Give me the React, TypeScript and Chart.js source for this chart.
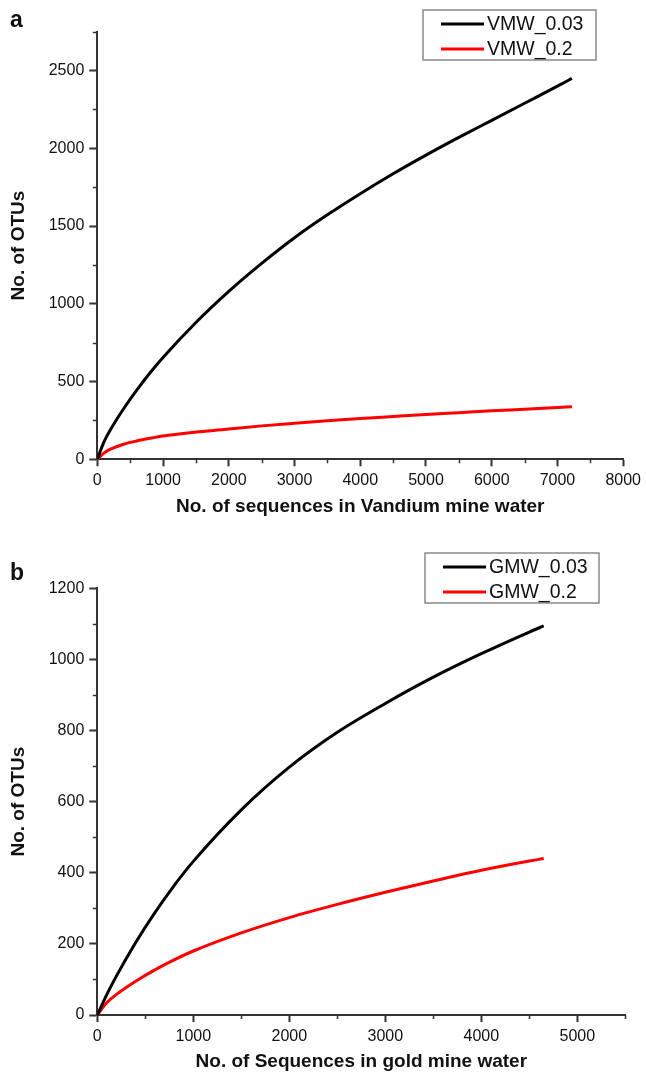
import React, { useEffect, useRef } from 'react';
import { Chart, registerables } from 'chart.js';

Chart.register(...registerables);

// ---------- Panel a: Vandium mine water ----------
const vmwSeqs = [0, 100, 200, 400, 600, 800, 1000, 1500, 2000, 2500, 3000, 3500, 4000, 4500, 5000, 5500, 6000, 6500, 7000, 7220];
const vmw003 = [0, 110, 190, 325, 445, 555, 655, 880, 1080, 1260, 1425, 1572, 1708, 1836, 1956, 2070, 2180, 2290, 2400, 2450];
const vmw02 = [0, 40, 65, 97, 118, 135, 150, 175, 195, 215, 232, 248, 262, 275, 288, 300, 312, 322, 333, 338];

// ---------- Panel b: gold mine water ----------
const gmwSeqs = [0, 100, 200, 400, 600, 800, 1000, 1500, 2000, 2500, 3000, 3500, 4000, 4500, 4650];
const gmw003 = [0, 58, 110, 204, 288, 364, 432, 577, 697, 795, 876, 950, 1016, 1077, 1094];
const gmw02 = [0, 35, 58, 95, 127, 155, 180, 231, 274, 311, 345, 377, 407, 433, 440];

const FONT = '"Liberation Sans", Arial, Helvetica, sans-serif';
const AXIS_COLOR = '#333333';
const TEXT_COLOR = '#111111';

const minorTicksPlugin = {
  id: 'minorTicks',
  afterDraw(chart: any, _args: any, opts: any) {
    const ctx = chart.ctx;
    const xs = chart.scales.x;
    const ys = chart.scales.y;
    ctx.save();
    ctx.strokeStyle = AXIS_COLOR;
    ctx.lineWidth = 1.5;
    ctx.beginPath();
    xs.ticks.forEach((t: any) => {
      if (t.value % opts.xMajor !== 0) {
        const px = Math.round(xs.getPixelForValue(t.value)) + 0.5;
        ctx.moveTo(px, xs.top);
        ctx.lineTo(px, xs.top + 4);
      }
    });
    ys.ticks.forEach((t: any) => {
      if (t.value % opts.yMajor !== 0) {
        const py = Math.round(ys.getPixelForValue(t.value)) + 0.5;
        ctx.moveTo(ys.right, py);
        ctx.lineTo(ys.right - 4.5, py);
      }
    });
    ctx.stroke();
    ctx.restore();
  },
};

const boxLegendPlugin = {
  id: 'boxLegend',
  afterDraw(chart: any, _args: any, opts: any) {
    const ctx = chart.ctx;
    const { x, y, w, h } = opts;
    ctx.save();
    ctx.strokeStyle = '#8a8a8a';
    ctx.lineWidth = 1.5;
    ctx.strokeRect(x, y, w, h);
    chart.data.datasets.forEach((ds: any, i: number) => {
      const rowY = y + 14 + i * 25;
      ctx.strokeStyle = ds.borderColor;
      ctx.lineWidth = 3;
      ctx.beginPath();
      ctx.moveTo(x + 18, rowY);
      ctx.lineTo(x + 61, rowY);
      ctx.stroke();
      ctx.fillStyle = TEXT_COLOR;
      ctx.font = `19.5px ${FONT}`;
      ctx.textBaseline = 'middle';
      ctx.textAlign = 'left';
      ctx.fillText(ds.label, x + 64, rowY + 1);
    });
    ctx.restore();
  },
};

type PanelCfg = {
  xMax: number;
  yMax: number;
  xMinorStep: number;
  yMinorStep: number;
  xMajor: number;
  yMajor: number;
  padTop: number;
  padRight: number;
  xHeight: number;
  yWidth: number;
  xTitle: string;
  xTitlePadBottom: number;
  legend: { x: number; y: number; w: number; h: number };
};

function buildConfig(seqs: number[], s1: number[], s2: number[], labels: string[], cfg: PanelCfg): any {
  const tickColorFor = (major: number) => (c: any) =>
    c.tick && c.tick.value % major === 0 ? AXIS_COLOR : 'rgba(0,0,0,0)';
  return {
    type: 'line',
    data: {
      datasets: [
        {
          label: labels[0],
          data: seqs.map((x, i) => ({ x, y: s1[i] })),
          borderColor: '#000000',
          borderWidth: 3,
          pointRadius: 0,
          fill: false,
          cubicInterpolationMode: 'monotone',
        },
        {
          label: labels[1],
          data: seqs.map((x, i) => ({ x, y: s2[i] })),
          borderColor: '#ff0000',
          borderWidth: 3,
          pointRadius: 0,
          fill: false,
          cubicInterpolationMode: 'monotone',
        },
      ],
    },
    options: {
      responsive: false,
      animation: false,
      layout: { padding: { top: cfg.padTop, right: cfg.padRight, bottom: 0, left: 0 } },
      plugins: {
        legend: { display: false },
        tooltip: { enabled: false },
        minorTicks: { xMajor: cfg.xMajor, yMajor: cfg.yMajor },
        boxLegend: cfg.legend,
      },
      scales: {
        x: {
          type: 'linear',
          min: 0,
          max: cfg.xMax,
          ticks: {
            stepSize: cfg.xMinorStep,
            autoSkip: false,
            maxRotation: 0,
            padding: 5,
            color: TEXT_COLOR,
            font: { family: FONT, size: 16 },
            callback: (v: number) => (v % 1000 === 0 ? String(v) : ''),
          },
          grid: {
            display: true,
            drawOnChartArea: false,
            drawTicks: true,
            tickLength: 7,
            tickWidth: 2,
            tickColor: tickColorFor(cfg.xMajor),
          },
          border: { display: true, color: AXIS_COLOR, width: 2 },
          title: {
            display: true,
            text: cfg.xTitle,
            color: TEXT_COLOR,
            font: { family: FONT, size: 19, weight: 'bold' },
            padding: { top: 0, bottom: cfg.xTitlePadBottom },
          },
          afterFit: (s: any) => {
            s.height = cfg.xHeight;
          },
        },
        y: {
          type: 'linear',
          min: 0,
          max: cfg.yMax,
          ticks: {
            stepSize: cfg.yMinorStep,
            autoSkip: false,
            padding: 5,
            color: TEXT_COLOR,
            font: { family: FONT, size: 16 },
            callback: (v: number) => (v % cfg.yMajor === 0 ? String(v) : ''),
          },
          grid: {
            display: true,
            drawOnChartArea: false,
            drawTicks: true,
            tickLength: 8,
            tickWidth: 2,
            tickColor: tickColorFor(cfg.yMajor),
          },
          border: { display: true, color: AXIS_COLOR, width: 2 },
          title: {
            display: true,
            text: 'No. of OTUs',
            color: TEXT_COLOR,
            font: { family: FONT, size: 19, weight: 'bold' },
            padding: { top: 7, bottom: 0 },
          },
          afterFit: (s: any) => {
            s.width = cfg.yWidth;
          },
        },
      },
    },
    plugins: [minorTicksPlugin, boxLegendPlugin],
  };
}

export default function App() {
  const refA = useRef<HTMLCanvasElement>(null);
  const refB = useRef<HTMLCanvasElement>(null);

  useEffect(() => {
    const chartA = new Chart(
      refA.current as HTMLCanvasElement,
      buildConfig(vmwSeqs, vmw003, vmw02, ['VMW_0.03', 'VMW_0.2'], {
        xMax: 8000,
        yMax: 2750,
        xMinorStep: 500,
        yMinorStep: 250,
        xMajor: 1000,
        yMajor: 500,
        padTop: 31.7,
        padRight: 20.7,
        xHeight: 70.7,
        yWidth: 97.3,
        xTitle: 'No. of sequences in Vandium mine water',
        xTitlePadBottom: 11.6,
        legend: { x: 423, y: 10, w: 173, h: 50 },
      })
    );
    const chartB = new Chart(
      refB.current as HTMLCanvasElement,
      buildConfig(gmwSeqs, gmw003, gmw02, ['GMW_0.03', 'GMW_0.2'], {
        xMax: 5500,
        yMax: 1200,
        xMinorStep: 500,
        yMinorStep: 100,
        xMajor: 1000,
        yMajor: 200,
        padTop: 58.3,
        padRight: 20.7,
        xHeight: 61,
        yWidth: 97.3,
        xTitle: 'No. of Sequences in gold mine water',
        xTitlePadBottom: 3,
        legend: { x: 425, y: 23, w: 174, h: 50 },
      })
    );
    return () => {
      chartA.destroy();
      chartB.destroy();
    };
  }, []);

  const panelLabel: React.CSSProperties = {
    position: 'absolute',
    left: 10,
    fontFamily: FONT,
    fontWeight: 'bold',
    fontSize: 23,
    lineHeight: '23px',
    color: TEXT_COLOR,
    margin: 0,
  };

  return (
    <div style={{ position: 'absolute', left: 0, top: 0, width: 646, height: 1076, background: '#ffffff' }}>
      <canvas
        ref={refA}
        width={646}
        height={530}
        style={{ position: 'absolute', left: 0, top: 0, width: 646, height: 530, display: 'block' }}
      />
      <canvas
        ref={refB}
        width={646}
        height={546}
        style={{ position: 'absolute', left: 0, top: 530, width: 646, height: 546, display: 'block' }}
      />
      <div style={{ ...panelLabel, top: 7.5 }}>a</div>
      <div style={{ ...panelLabel, top: 560.5 }}>b</div>
    </div>
  );
}
